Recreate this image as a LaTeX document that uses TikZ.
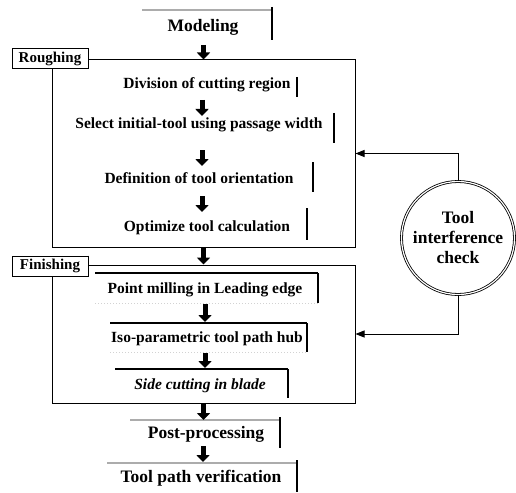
\documentclass[tikz,border=0pt]{standalone}
\usepackage{fontspec}
\setmainfont{Liberation Serif}
\usetikzlibrary{arrows.meta}
\begin{document}
\begin{tikzpicture}[x=1pt,y=-1pt,
 txt/.style={font=\fontsize{15.5}{18}\selectfont\bfseries, inner sep=0pt},
 big/.style={font=\fontsize{17.5}{20}\selectfont\bfseries, inner sep=0pt},
 bar/.style={line width=2.6pt},
 gline/.style={gray!65, line width=1.6pt},
 dline/.style={black, line width=1.5pt},
 faint/.style={gray!35, line width=1pt, dotted},
 blk/.style={line width=5pt, -{Triangle[length=7pt,width=13pt]}},
 frame/.style={draw, line width=1pt, inner sep=0pt},
 lab/.style={draw, fill=white, line width=1pt, minimum width=76pt, minimum height=20pt, inner sep=0pt, font=\fontsize{15}{17}\selectfont\bfseries},
 fb/.style={line width=0.9pt, -{Triangle[length=9pt,width=7pt]}}]
\useasboundingbox (0,0) rectangle (516,492);

% frames
\node[frame, minimum width=303pt, minimum height=187pt] (rfr) at (203.5,153.5) {};
\node[frame, minimum width=303pt, minimum height=138pt] (ffr) at (203.5,334) {};
\node[lab] (rl) at (50,59) {Roughing};
\draw[line width=1.8pt] (rl.north east) -- (rl.south east);
\node[lab] (fl) at (50,266) {Finishing};
\draw[line width=1.8pt] (fl.north east) -- (fl.south east);

% Modeling
\node[big] (mod) at (203,27) {Modeling};
\draw[gline] (142,10) -- (272,10);
\draw[bar] (272,7) -- (272,40);

% roughing items
\node[txt] (d1) at (207,85) {Division of cutting region};
\draw[bar] (297,77) -- (297,97);
\node[txt] (d2) at (199,125) {Select initial-tool using passage width};
\draw[bar] (334,113) -- (334,143);
\node[txt] (d3) at (199,178) {Definition of tool orientation};
\draw[bar] (313,162) -- (313,192);
\node[txt] (d4) at (207,228) {Optimize tool calculation};
\draw[bar] (307,208) -- (307,240);

% finishing items
\node[txt] (f1) at (205,290) {Point milling in Leading edge};
\draw[dline] (95,273) -- (318,273);
\draw[bar] (318,273) -- (318,303);
\draw[faint] (95,303) -- (318,303);
\node[txt] (f2) at (207,339) {Iso-parametric tool path hub};
\draw[dline] (110,323) -- (307,323);
\draw[bar] (307,323) -- (307,352);
\draw[faint] (110,352) -- (307,352);
\node[txt, font=\fontsize{15.5}{18}\selectfont\bfseries\itshape] (f3) at (200,386) {Side cutting in blade};
\draw[dline] (115,369) -- (288,369);
\draw[bar] (288,369) -- (288,398);

% post
\node[big] (post) at (206,434) {Post-processing};
\draw[gline] (130,420) -- (280,420);
\draw[bar] (280,417) -- (280,448);
\node[big] (ver) at (201,478) {Tool path verification};
\draw[gline] (107,463) -- (297,463);
\draw[bar] (297,460) -- (297,492);

% block arrows
\coordinate (a0) at (203.5,45);
\draw[blk] (a0) -- (rfr.north);
\coordinate (a1s) at (202,100); \coordinate (a1e) at (202,116);
\draw[blk] (a1s) -- (a1e);
\coordinate (a2s) at (202,150); \coordinate (a2e) at (202,166);
\draw[blk] (a2s) -- (a2e);
\coordinate (a3s) at (202,196); \coordinate (a3e) at (202,212);
\draw[blk] (a3s) -- (a3e);
\draw[blk] (rfr.south) -- (ffr.north);
\coordinate (b1s) at (205,304); \coordinate (b1e) at (205,322);
\draw[blk] (b1s) -- (b1e);
\coordinate (b2s) at (205,353); \coordinate (b2e) at (205,368);
\draw[blk] (b2s) -- (b2e);
\coordinate (c1e) at (203.5,420);
\draw[blk] (ffr.south) -- (c1e);
\coordinate (c2s) at (203,446); \coordinate (c2e) at (203,462);
\draw[blk] (c2s) -- (c2e);

% tool interference check
\node[circle, draw, double, double distance=1.2pt, line width=0.8pt, minimum size=113pt, align=center, font=\fontsize{17.5}{20}\selectfont\bfseries, inner sep=0pt] (tic) at (458,238) {Tool\\interference\\check};
\draw[fb] (tic.north) |- (rfr.east);
\draw[fb] (tic.south) |- (ffr.east);
\end{tikzpicture}
\end{document}
